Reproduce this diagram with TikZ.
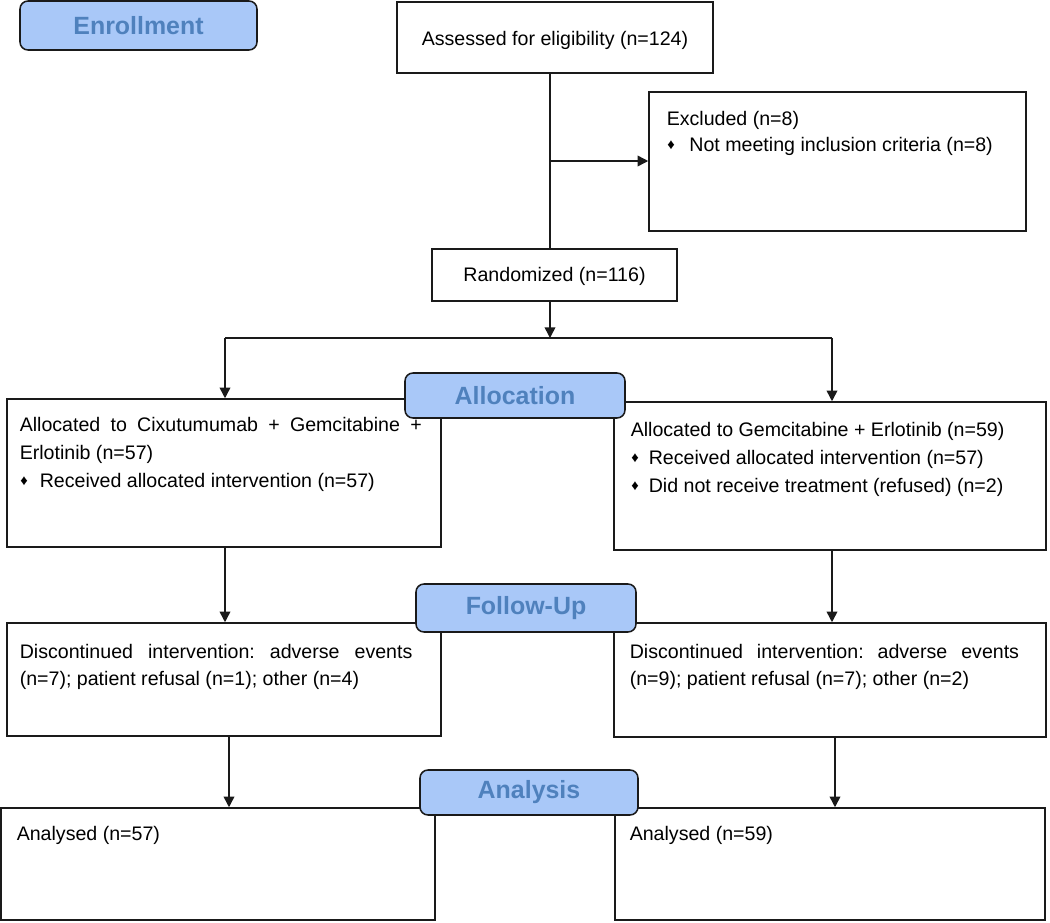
\documentclass[tikz,border=0pt]{standalone}
\usepackage{fontspec}
\setmainfont{Liberation Sans}
\usetikzlibrary{fit,arrows.meta}
\definecolor{lblfill}{HTML}{A9C8F8}
\definecolor{lbltext}{HTML}{4F81BD}
\definecolor{edge}{HTML}{1A1A1A}
\newcommand\bul[1]{\makebox[#1][l]{\hspace{0.5pt}\raisebox{1.1pt}{\fontsize{11}{11}\selectfont ♦}}}
\frenchspacing
\begin{document}
\begin{tikzpicture}[x=0.75pt,y=-0.75pt,line width=1.15pt,
  box/.style={draw=edge,inner sep=0pt,line width=1.15pt},
  stage/.style={draw=edge,fill=lblfill,rounded corners=6pt,inner sep=0pt,line width=1.15pt},
  stagetext/.style={text=lbltext,font=\fontsize{18.7}{22}\selectfont\bfseries,inner sep=0pt},
  txt/.style={anchor=base west,inner sep=0pt,font=\fontsize{14.7}{18}\selectfont},
  ctxt/.style={inner sep=0pt,font=\fontsize{14.7}{18}\selectfont},
  arr/.style={draw=edge,-{Triangle[length=8pt,width=8pt]}}]
\useasboundingbox (0,0) rectangle (1050,922);

% boxes
\node[box,fit={(397,2)(713,73)}] (assess) {};
\node[ctxt] (assesst) at ([yshift=-2.5pt]assess.center) {Assessed for eligibility (n=124)};
\node[box,fit={(649,92)(1026,231)}] (excl) {};
\node[txt] (exclt1) at (666,125) {Excluded (n=8)};
\node[txt] (exclt2) at (666,151) {\bul{17pt}Not meeting inclusion criteria (n=8)};
\node[box,fit={(432,249)(677,301)}] (rand) {};
\node[ctxt] (randt) at ([yshift=-1pt]rand.center) {Randomized (n=116)};

\node[box,fit={(7,399)(441,547)}] (a1) {};
\node[txt] (a1t1) at (19,431) {\makebox[301.5pt][s]{Allocated to Cixutumumab + Gemcitabine +}};
\node[txt] (a1t2) at (19,459) {Erlotinib (n=57)};
\node[txt] (a1t3) at (19,487) {\bul{15pt}Received allocated intervention (n=57)};
\node[box,fit={(614,402)(1046,550)}] (a2) {};
\node[txt] (a2t1) at (630,436) {Allocated to Gemcitabine + Erlotinib (n=59)};
\node[txt] (a2t2) at (630,464) {\bul{13.5pt}Received allocated intervention (n=57)};
\node[txt] (a2t3) at (630,492) {\bul{13.5pt}Did not receive treatment (refused) (n=2)};

\node[box,fit={(7,623)(441,736)}] (f1) {};
\node[txt] (f1t1) at (19,658) {\makebox[294.5pt][s]{Discontinued intervention: adverse events}};
\node[txt] (f1t2) at (19,685) {(n=7); patient refusal (n=1); other (n=4)};
\node[box,fit={(614,623)(1046,737)}] (f2) {};
\node[txt] (f2t1) at (629,658) {\makebox[292pt][s]{Discontinued intervention: adverse events}};
\node[txt] (f2t2) at (629,685) {(n=9); patient refusal (n=7); other (n=2)};

\node[box,fit={(1,808)(435,920)}] (n1) {};
\node[txt] (n1t) at (16,840) {Analysed (n=57)};
\node[box,fit={(615,808)(1045,920)}] (n2) {};
\node[txt] (n2t) at (629,840) {Analysed (n=59)};

% connectors
\coordinate (j1) at (550,161);
\draw[draw=edge] (assess.south -| j1) -- (rand.north -| j1);
\draw[arr] (j1) -- (excl.west |- j1);
\coordinate (sp) at (550,338);
\draw[arr] (rand.south -| sp) -- (sp);
\coordinate (spl) at (225,338);
\coordinate (spr) at (832,338);
\draw[draw=edge] (spl) -- (spr);
\draw[arr] (spl) -- (a1.north -| spl);
\draw[arr] (spr) -- (a2.north -| spr);
\draw[arr] (a1.south -| spl) -- (f1.north -| spl);
\draw[arr] (a2.south -| spr) -- (f2.north -| spr);
\coordinate (xl) at (229,780);
\coordinate (xr) at (835,780);
\draw[arr] (f1.south -| xl) -- (n1.north -| xl);
\draw[arr] (f2.south -| xr) -- (n2.north -| xr);

% stage labels
\node[stage,fit={(20,1)(257,50)}] (enr) {};
\node[stagetext] (enrt) at (enr.center) {Enrollment};
\node[stage,fit={(405,373)(625,418)}] (alloc) {};
\node[stagetext] (alloct) at (alloc.center) {Allocation};
\node[stage,fit={(416,584)(636,632)}] (fu) {};
\node[stagetext] (fut) at (fu.center) {Follow-Up};
\node[stage,fit={(420,770)(638,815)}] (an) {};
\node[stagetext] (ant) at (an.center) {Analysis};
\end{tikzpicture}
\end{document}
